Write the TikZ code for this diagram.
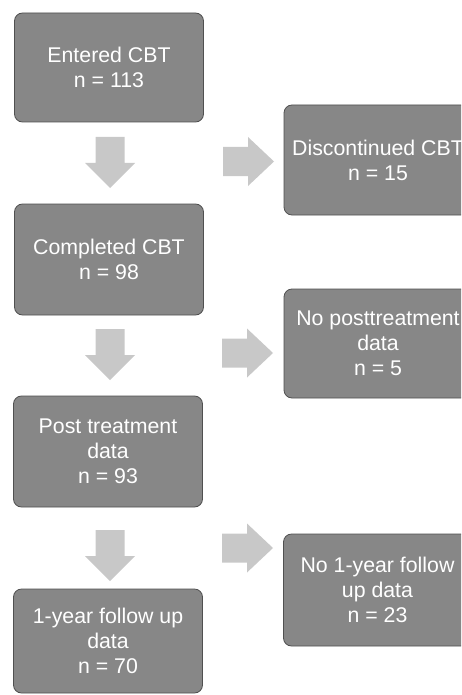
\documentclass[tikz,border=0pt]{standalone}
\usepackage{fontspec}
\setmainfont{Liberation Sans}
\definecolor{boxfill}{HTML}{878787}
\definecolor{boxline}{HTML}{505050}
\definecolor{arrfill}{HTML}{C8C8C8}
\tikzset{
  stepbox/.style={draw=boxline, line width=0.8pt, fill=boxfill, rounded corners=8pt,
    text=white, align=center, inner sep=0pt,
    font=\fontsize{21.3}{25.2}\selectfont},
  darrow/.pic={\fill[arrfill] (-14.5,0) -- (14.5,0) -- (14.5,26) -- (25,26) -- (0,51) -- (-25,26) -- (-14.5,26) -- cycle;},
  rarrow/.pic={\fill[arrfill] (0,-14.5) -- (25,-14.5) -- (25,-24.5) -- (51,0) -- (25,24.5) -- (25,14.5) -- (0,14.5) -- cycle;}
}
\begin{document}
\begin{tikzpicture}[x=1pt,y=-1pt]
\useasboundingbox (0,0) rectangle (461,695);
\clip (0,0) rectangle (461,695);
% left column
\node[stepbox, minimum width=189pt, minimum height=109pt] (b1) at (109,67.5) {Entered CBT\\n = 113};
\node[stepbox, minimum width=189pt, minimum height=111pt] (b2) at (109,259.5) {Completed CBT\\n = 98};
\node[stepbox, minimum width=189pt, minimum height=111pt] (b3) at (108,451.5) {Post treatment\\data\\n = 93};
\node[stepbox, minimum width=189pt, minimum height=104pt] (b4) at (108,641) {1-year follow up\\data\\n = 70};
% right column
\node[stepbox, minimum width=188pt, minimum height=110pt] (r1) at (378,160) {Discontinued CBT\\n = 15};
\node[stepbox, minimum width=188pt, minimum height=109pt] (r2) at (378,343.5) {No posttreatment\\data\\n = 5};
\node[stepbox, minimum width=188pt, minimum height=112pt] (r3) at (377.5,590) {No 1-year follow\\up data\\n = 23};
% arrows
\pic at (110,137) {darrow};
\pic at (110,329) {darrow};
\pic at (110,530) {darrow};
\pic at (223,161.5) {rarrow};
\pic at (222,353) {rarrow};
\pic at (222,548) {rarrow};
\end{tikzpicture}
\end{document}
